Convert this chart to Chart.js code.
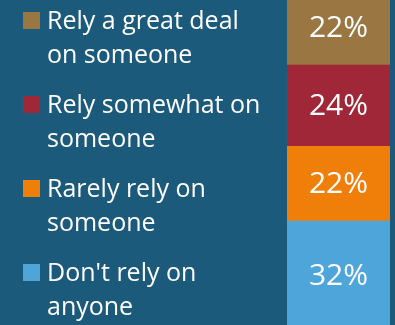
<!DOCTYPE html>
<html>
<head>
<meta charset="utf-8">
<script src="https://cdn.jsdelivr.net/npm/chart.js@4"></script>
<style>
    html, body {
        margin: 0;
        padding: 0;
        background: #1c5a7c;
    }
    #wrap {
        position: relative;
        width: 395px;
        height: 325px;
        overflow: hidden;
    }
    #chart {
        position: absolute;
        left: 0;
        top: 0;
    }
    .legend-item {
        position: absolute;
        left: 0;
        width: 280px;
    }
    .legend-box {
        position: absolute;
        left: 23px;
        top: 10px;
        width: 17px;
        height: 17px;
    }
    .legend-text {
        position: absolute;
        left: 47px;
        top: 0;
        font-family: "Open Sans", sans-serif;
        font-size: 25px;
        line-height: 34px;
        color: #ffffff;
        white-space: nowrap;
    }
</style>
</head>
<body>
<div id="wrap">
    <canvas id="chart" width="395" height="325"></canvas>
</div>
<script>
// Legend order, top to bottom
const categories = [
    ['Rely a great deal', 'on someone'],
    ['Rely somewhat on', 'someone'],
    ['Rarely rely on', 'someone'],
    ["Don't rely on", 'anyone']
];
const shares = [22, 24, 22, 32];
const colors = ['#997642', '#a02738', '#f07f09', '#4ea5d9'];

// Build the legend
const wrap = document.getElementById('wrap');
categories.forEach((lines, i) => {
    const item = document.createElement('div');
    item.className = 'legend-item';
    item.style.top = (2 + 84 * i) + 'px';
    item.innerHTML = `
        <div class="legend-box" style="background:${colors[i]}"></div>
        <div class="legend-text">${lines.join('<br>')}</div>
    `;
    wrap.appendChild(item);
});

// Stacked datasets go bottom-up, so reverse the legend order
const datasets = categories.map((lines, i) => ({
    label: lines.join(' '),
    data: [shares[i]],
    backgroundColor: colors[i],
    borderWidth: 0,
    barPercentage: 1,
    categoryPercentage: 1
})).reverse();

const barLabels = {
    id: 'barLabels',
    afterDatasetsDraw(chart) {
        const ctx = chart.ctx;
        ctx.save();
        ctx.fillStyle = '#ffffff';
        ctx.font = '30px "Open Sans", sans-serif';
        ctx.textAlign = 'center';
        ctx.textBaseline = 'middle';
        chart.data.datasets.forEach((ds, i) => {
            const bar = chart.getDatasetMeta(i).data[0];
            const y = (bar.y + bar.base) / 2;
            ctx.fillText(ds.data[0] + '%', bar.x, y + 1);
        });
        ctx.restore();
    }
};

new Chart(document.getElementById('chart'), {
    type: 'bar',
    data: {
        labels: [''],
        datasets: datasets
    },
    options: {
        responsive: false,
        animation: false,
        layout: {
            padding: { left: 287, right: 5, top: 0, bottom: 0 }
        },
        plugins: {
            legend: { display: false },
            tooltip: { enabled: false }
        },
        scales: {
            x: { stacked: true, display: false },
            y: { stacked: true, display: false, min: 1.3, max: 97.2 }
        }
    },
    plugins: [barLabels]
});
</script>
</body>
</html>
